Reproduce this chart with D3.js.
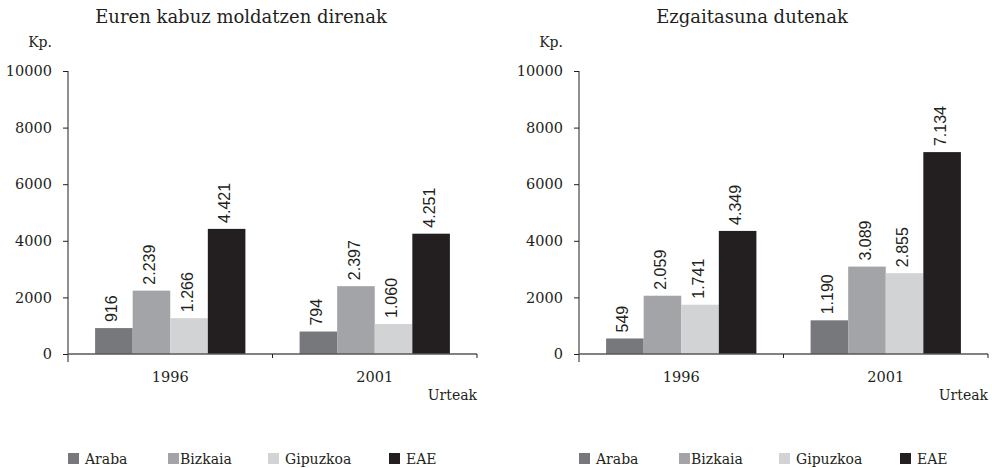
<!DOCTYPE html>
<html>
<head>
<meta charset="utf-8">
<script src="https://cdn.jsdelivr.net/npm/d3@7"></script>
<style>
  body { margin: 0; background: #fff; }
  svg { display: block; }
  text { fill: #231f20; }
  .serif { font-family: "DejaVu Serif", serif; }
  .sans { font-family: "Liberation Sans", Arial, sans-serif; }
</style>
</head>
<body>
<script>
// data
var years = ["1996", "2001"]
var series = ["Araba", "Bizkaia", "Gipuzkoa", "EAE"]
var titles = ["Euren kabuz moldatzen direnak", "Ezgaitasuna dutenak"]
var kabuzValues = [[916, 2239, 1266, 4421], [794, 2397, 1060, 4251]]
var ezgaiValues = [[549, 2059, 1741, 4349], [1190, 3089, 2855, 7134]]
var yTicks = [0, 2000, 4000, 6000, 8000, 10000]

var colors = ["#77787b", "#a3a4a7", "#d1d3d4", "#231f20"]
var legendBox = [0, 100, 200, 321]
var legendText = [17, 112, 217, 338]

var width = 992, height = 468
var plotW = 409, plotH = 283

var locale = d3.formatLocale({decimal: ",", thousands: ".", grouping: [3], currency: ["", ""]})
var fmt = locale.format(",d")

var svg = d3.select("body").append("svg")
    .attr("width", width)
    .attr("height", height)

var x0 = d3.scaleBand()
    .domain(years)
    .range([0, plotW])
    .paddingInner(0.265)
    .paddingOuter(0.1325)

var x1 = d3.scaleBand()
    .domain(series)
    .range([0, x0.bandwidth()])

var y = d3.scaleLinear()
    .domain([0, 10000])
    .range([plotH, 0])

;[kabuzValues, ezgaiValues].forEach(function (values, i) {
    var g = svg.append("g")
        .attr("transform", "translate(" + (68 + i * 511) + ",71)")

    g.append("text")
        .attr("class", "serif")
        .attr("x", 173)
        .attr("y", -48)
        .attr("text-anchor", "middle")
        .style("font-size", "18px")
        .text(titles[i])

    g.append("text")
        .attr("class", "serif")
        .attr("x", -16)
        .attr("y", -24)
        .attr("text-anchor", "end")
        .style("font-size", "14px")
        .text("Kp.")

    // y axis
    var yAxis = g.append("g")
        .call(d3.axisLeft(y).tickValues(yTicks).tickSize(5).tickPadding(11)
            .tickFormat(d3.format("d")))
    yAxis.select(".domain").remove()
    yAxis.selectAll("line").attr("stroke", "#231f20")
    yAxis.selectAll("text")
        .attr("class", "serif")
        .style("font-size", "14.5px")
        .attr("fill", "#231f20")
    g.append("line")
        .attr("x1", 0).attr("x2", 0)
        .attr("y1", 0).attr("y2", plotH + 8)
        .attr("stroke", "#231f20")

    // bars
    var groups = g.selectAll(".grp")
        .data(years.map(function (yr, j) { return {year: yr, vals: values[j]} }))
        .enter().append("g")
        .attr("class", "grp")
        .attr("transform", function (d) { return "translate(" + x0(d.year) + ",0)" })

    var cells = groups.selectAll(".cell")
        .data(function (d) { return d.vals.map(function (v, k) { return {key: series[k], value: v, k: k} }) })
        .enter()

    cells.append("rect")
        .attr("x", function (d) { return x1(d.key) })
        .attr("y", function (d) { return y(d.value) })
        .attr("width", x1.bandwidth())
        .attr("height", function (d) { return plotH - y(d.value) })
        .attr("fill", function (d) { return colors[d.k] })

    cells.append("text")
        .attr("class", "sans")
        .attr("transform", function (d) {
            return "translate(" + (x1(d.key) + x1.bandwidth() / 2 - 2) + "," + (y(d.value) - 6) + ") rotate(-90)"
        })
        .attr("dy", "0.35em")
        .style("font-size", "16px")
        .text(function (d) { return fmt(d.value) })

    // x axis
    var xAxis = g.append("g")
        .attr("transform", "translate(0," + plotH + ")")
        .call(d3.axisBottom(x0).tickSize(0).tickPadding(18))
    xAxis.select(".domain").remove()
    xAxis.selectAll("text")
        .attr("class", "serif")
        .style("font-size", "14.5px")
        .attr("fill", "#231f20")

    g.append("line")
        .attr("x1", 0).attr("x2", plotW)
        .attr("y1", plotH).attr("y2", plotH)
        .attr("stroke", "#58595b")
        .attr("stroke-width", 1.5)

    var bounds = [0].concat(years.map(function (yr) { return x0(yr) + x0.bandwidth() / 2 + x0.step() / 2 }))
    g.selectAll(".xtick")
        .data(bounds.slice(1))
        .enter().append("line")
        .attr("class", "xtick")
        .attr("x1", function (d) { return d }).attr("x2", function (d) { return d })
        .attr("y1", plotH).attr("y2", plotH + 4)
        .attr("stroke", "#231f20")

    g.append("text")
        .attr("class", "serif")
        .attr("x", plotW)
        .attr("y", plotH + 46)
        .attr("text-anchor", "end")
        .style("font-size", "14px")
        .text("Urteak")

    // legend
    var leg = g.selectAll(".leg")
        .data(series)
        .enter().append("g")
        .attr("class", "leg")
    leg.append("rect")
        .attr("x", function (d, k) { return legendBox[k] })
        .attr("y", 382)
        .attr("width", 11)
        .attr("height", 11)
        .attr("fill", function (d, k) { return colors[k] })
    leg.append("text")
        .attr("class", "serif")
        .attr("x", function (d, k) { return legendText[k] })
        .attr("y", 393)
        .style("font-size", "14px")
        .text(function (d) { return d })
})
</script>
</body>
</html>
